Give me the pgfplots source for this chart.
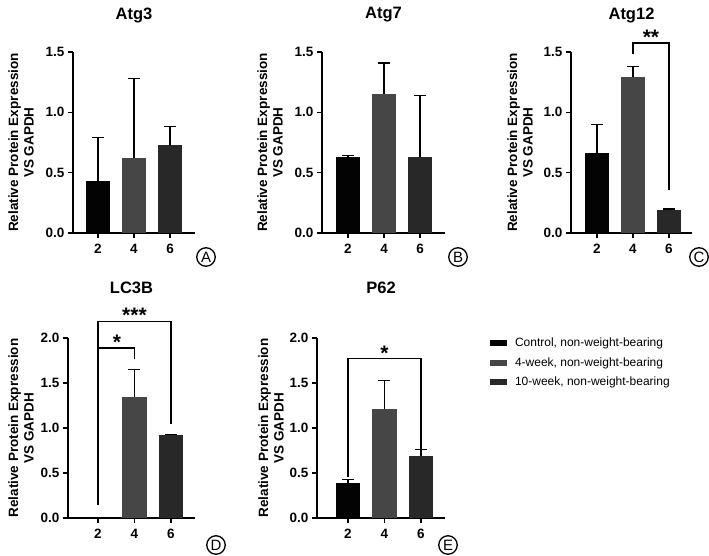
\documentclass[border=0pt]{standalone}
\usepackage{pgfplots}
\pgfplotsset{compat=1.18}
\usepackage{fontspec}
\setmainfont{Liberation Sans}

\definecolor{grpA}{HTML}{030303}
\definecolor{grpB}{HTML}{464646}
\definecolor{grpC}{HTML}{282828}

\pgfplotsset{
    panel/.style={
        scale only axis,
        ybar, bar shift=0pt, bar width=0.67,
        axis lines*=left,
        axis line style={line width=1.8pt, black},
        ymin=0,
        xtick={1,2,3}, xticklabels={2,4,6},
        tick align=outside,
        major tick length=5pt,
        tick style={line width=1.5pt, black},
        ticklabel style={font=\fontsize{13.5}{15}\selectfont\bfseries},
        xticklabel style={yshift=-3pt},
        /pgf/number format/assume math mode=true,
        yticklabel style={/pgf/number format/.cd, fixed, fixed zerofill, precision=1},
        title style={font=\fontsize{16.5}{18}\selectfont\bfseries, at={(0.5,1)}, anchor=center},
        clip=false,
        legend style={draw=none},
    },
    toprow/.style={height=181pt, ymax=1.5, ytick={0,0.5,1,1.5}, title style={yshift=31pt}},
    botrow/.style={height=180pt, ymax=2, ytick={0,0.5,1,1.5,2}, title style={yshift=44pt}},
    errs/.style={error bars/.cd, y dir=plus, y explicit,
        error bar style={line width=1.3pt, black},
        error mark options={line width=1.3pt, black, mark size=6pt, rotate=90}},
    bA/.style={fill=grpA, draw=none, errs},
    bB/.style={fill=grpB, draw=none, errs},
    bC/.style={fill=grpC, draw=none, errs},
}
\newcommand{\ylab}[1]{\node[rotate=90, align=center, font=\fontsize{13.5}{15.5}\selectfont\bfseries]
    at ([xshift=#1]rel axis cs:0,0.5) {Relative Protein Expression\\VS GAPDH};}
\newcommand{\tag}[2]{\node[draw, circle, line width=1.3pt, minimum size=18.5pt, inner sep=0pt,
    font=\fontsize{15}{17}\selectfont] at #1 {#2};}
\newcommand{\stars}{\fontsize{21}{22}\selectfont\bfseries}

\begin{document}
\begin{tikzpicture}
\useasboundingbox (0,0) rectangle (709pt,555pt);

% A: Atg3
\begin{axis}[panel, toprow, at={(73pt,322pt)}, anchor=south west,
    width=122pt, xmin=0.31, xmax=3.69, title={Atg3}]
    \addplot[bA] coordinates {(1,0.43) +- (0,0.36)};
    \addplot[bB] coordinates {(2,0.62) +- (0,0.66)};
    \addplot[bC] coordinates {(3,0.73) +- (0,0.15)};
    \ylab{-52pt}
\end{axis}

% B: Atg7
\begin{axis}[panel, toprow, at={(322pt,322pt)}, anchor=south west,
    width=123pt, xmin=0.28, xmax=3.69, title={Atg7}]
    \addplot[bA] coordinates {(1,0.63) +- (0,0.015)};
    \addplot[bB] coordinates {(2,1.15) +- (0,0.26)};
    \addplot[bC] coordinates {(3,0.63) +- (0,0.51)};
    \ylab{-52pt}
\end{axis}

% C: Atg12
\begin{axis}[panel, toprow, at={(571pt,322pt)}, anchor=south west,
    width=121pt, xmin=0.28, xmax=3.64, title={Atg12}]
    \addplot[bA] coordinates {(1,0.665) +- (0,0.235)};
    \addplot[bB] coordinates {(2,1.29) +- (0,0.09)};
    \addplot[bC] coordinates {(3,0.19) +- (0,0.01)};
    \draw[line width=1.3pt] (axis cs:2,1.48) |- (axis cs:3,1.575) -- (axis cs:3,0.36);
    \node[font=\stars] at (axis cs:2.5,1.62) {**};
    \ylab{-51pt}
\end{axis}

% D: LC3B
\begin{axis}[panel, botrow, at={(68pt,37pt)}, anchor=south west,
    width=127pt, xmin=0.18, xmax=3.66, title={LC3B}]
    \addplot[bA] coordinates {(1,0.012)};
    \addplot[bB] coordinates {(2,1.35) +- (0,0.30)};
    \addplot[bC] coordinates {(3,0.92) +- (0,0.01)};
    \draw[line width=1.3pt] (axis cs:1,0.14) |- (axis cs:3,2.18) -- (axis cs:3,1.04);
    \draw[line width=1.3pt] (axis cs:1,1.89) -- (axis cs:2,1.89) -- (axis cs:2,1.77);
    \node[font=\stars] at (axis cs:1.52,1.95) {*};
    \node[font=\stars] at (axis cs:2,2.25) {***};
    \ylab{-47pt}
\end{axis}

% E: P62
\begin{axis}[panel, botrow, at={(317pt,37pt)}, anchor=south west,
    width=128pt, xmin=0.15, xmax=3.66, title={P62},
    legend style={at={(1.35,1.008)}, anchor=north west, fill=none, inner sep=0pt,
        font=\fontsize{12}{14}\selectfont, row sep=7.5pt,
        nodes={inner sep=1pt},
        /tikz/every odd column/.append style={column sep=7pt}},
    legend cell align=left,
    legend image code/.code={\fill[#1, draw=none] (0pt,-3pt) rectangle (17pt,3pt);}]
    \addplot[bA] coordinates {(1,0.39) +- (0,0.04)};
    \addlegendentry{Control, non-weight-bearing}
    \addplot[bB] coordinates {(2,1.21) +- (0,0.32)};
    \addlegendentry{4-week, non-weight-bearing}
    \addplot[bC] coordinates {(3,0.69) +- (0,0.07)};
    \addlegendentry{10-week, non-weight-bearing}
    \draw[line width=1.3pt] (axis cs:1,0.46) |- (axis cs:3,1.77) -- (axis cs:3,0.69);
    \node[font=\stars] at (axis cs:2,1.83) {*};
    \ylab{-46pt}
\end{axis}

\tag{(206pt,298pt)}{A}
\tag{(458pt,298pt)}{B}
\tag{(699pt,298pt)}{C}
\tag{(216pt,10pt)}{D}
\tag{(448pt,10pt)}{E}
\end{tikzpicture}
\end{document}
